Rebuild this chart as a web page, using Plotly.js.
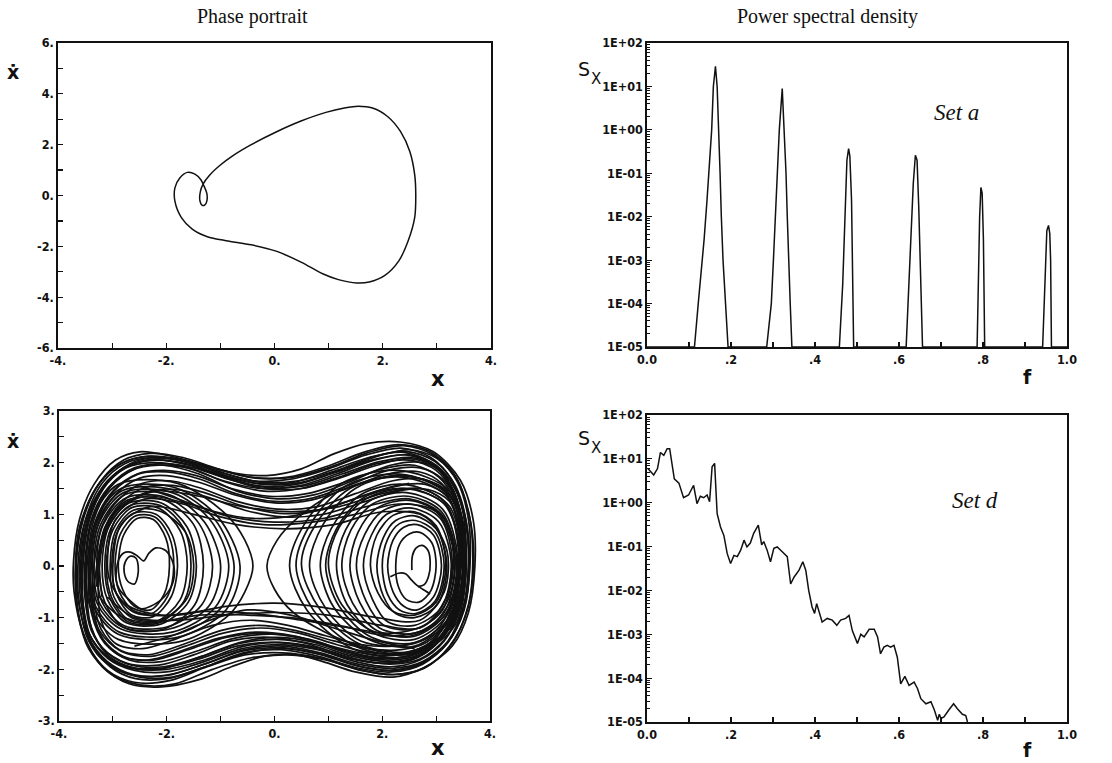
<!DOCTYPE html>
<html><head><meta charset="utf-8">
<script src="https://cdn.plot.ly/plotly-3.0.1.min.js"></script>
<style>html,body{margin:0;padding:0;background:#fff}#chart{width:1112px;height:763px}</style>
</head><body><div id="chart"></div>
<script>
// ---------- Set a: periodic orbit (phase portrait) ----------
const cycleX = [-1.84,-1.75,-1.61,-1.47,-1.36,-1.30,-1.25,-1.25,-1.29,-1.34,-1.38,-1.37,-1.32,-1.20,-1.00,-0.78,-0.43,0.03,0.49,0.95,1.29,1.55,1.81,2.10,2.33,2.50,2.59,2.61,2.59,2.47,2.30,2.04,1.75,1.52,1.18,0.89,0.49,0.03,-0.43,-0.89,-1.24,-1.52,-1.72,-1.84,-1.84];
const cycleY = [0.30,0.69,0.91,0.84,0.62,0.36,0.08,-0.22,-0.38,-0.38,-0.18,0.15,0.45,0.80,1.20,1.55,2.00,2.50,2.93,3.27,3.44,3.51,3.44,3.09,2.51,1.73,0.82,0.0,-0.87,-1.78,-2.56,-3.14,-3.40,-3.44,-3.31,-3.08,-2.62,-2.19,-1.94,-1.78,-1.62,-1.32,-0.87,-0.22,0.30];

// ---------- Set a: power spectral density ----------
const psdA_f = [0.0,0.113,0.122,0.128,0.136,0.143,0.149,0.154,0.158,0.163,0.167,0.171,0.174,0.177,0.181,0.187,0.193,
  0.285,0.296,0.301,0.306,0.310,0.315,0.322,0.327,0.331,0.334,0.337,0.341,0.345,
  0.458,0.466,0.472,0.476,0.480,0.483,0.487,0.489,0.492,
  0.617,0.622,0.629,0.634,0.639,0.643,0.647,0.651,0.656,
  0.786,0.789,0.792,0.795,0.798,0.801,0.804,
  0.942,0.948,0.952,0.956,0.959,0.961,0.963,1.0];
const psdA_S = [1e-5,1e-5,1e-4,4e-4,3e-3,2.5e-2,1.5e-1,1,10,29,10,1,1e-1,1e-2,1e-3,1e-4,1e-5,
  1e-5,1e-4,1e-3,1e-2,1e-1,1,8.9,1,1e-1,1e-2,1e-3,1e-4,1e-5,
  1e-5,2.8e-4,2.4e-2,0.2,0.37,0.25,2.4e-2,1e-3,1e-5,
  1e-5,1.1e-4,4.1e-3,5.8e-2,0.26,0.2,1.7e-2,1e-3,1e-5,
  1e-5,6.8e-4,1e-2,4.7e-2,3.5e-2,3e-3,1e-5,
  1e-5,2.8e-4,4.8e-3,6.3e-3,4.1e-3,1e-3,1e-5,1e-5];

// ---------- Set d: power spectral density ----------
const psdD_f = [0.002,0.016,0.025,0.032,0.040,0.048,0.054,0.060,0.065,0.076,0.087,0.099,0.111,0.119,0.127,0.135,0.143,0.149,0.155,0.161,0.167,0.175,0.183,0.191,0.199,0.207,0.215,0.223,0.231,0.238,0.246,0.254,0.265,0.273,0.278,0.286,0.294,0.302,0.310,0.322,0.334,0.342,0.350,0.362,0.371,0.378,0.385,0.393,0.399,0.404,0.410,0.417,0.429,0.441,0.452,0.461,0.473,0.481,0.489,0.501,0.509,0.517,0.529,0.541,0.549,0.556,0.564,0.572,0.580,0.588,0.596,0.604,0.614,0.624,0.636,0.644,0.652,0.664,0.676,0.684,0.692,0.696,0.700,0.707,0.719,0.730,0.739,0.751,0.759,0.763];
const psdD_S = [6.0,4.3,6.0,14,12,17,17,7.9,3.5,2.8,1.3,1.5,2.5,0.95,1.4,1.3,1.5,1.05,6.6,7.9,0.56,0.28,0.18,0.069,0.041,0.063,0.059,0.083,0.14,0.098,0.12,0.20,0.31,0.11,0.13,0.083,0.045,0.091,0.098,0.076,0.059,0.014,0.020,0.029,0.045,0.029,0.010,4.2e-3,3.0e-3,5.0e-3,3.0e-3,1.9e-3,2.3e-3,2.1e-3,1.6e-3,2.1e-3,2.3e-3,2.7e-3,1.2e-3,6.2e-4,1.0e-3,8.7e-4,1.3e-3,1.3e-3,8.7e-4,3.6e-4,5.1e-4,5.6e-4,5.1e-4,5.6e-4,3.0e-4,7.4e-5,1.1e-4,6.8e-5,8.1e-5,5.8e-5,3.4e-5,2.6e-5,2.9e-5,1.9e-5,1.1e-5,1.5e-5,1.2e-5,1.3e-5,1.9e-5,2.6e-5,2.0e-5,1.5e-5,1.4e-5,1.0e-5];

// ---------- Set d: chaotic attractor, strokes as [x,y,x,y,...] ----------
const outerLoops = [
 [-3.72,-0.5,-3.73,0.1,-3.62,0.9,-3.35,1.58,-2.95,2.05,-2.5,2.21,-1.9,2.12,-1.4,1.98,-0.75,1.8,-0.15,1.75,0.5,1.88,1.1,2.17,1.7,2.37,2.33,2.40,2.95,2.21,3.45,1.66,3.69,0.88,3.72,0.0,3.6,-0.9,3.3,-1.55,2.75,-1.98,2.2,-2.15,1.5,-2.05,0.9,-1.85,0.4,-1.72,-0.2,-1.75,-0.8,-1.95,-1.4,-2.2,-2.1,-2.34,-2.7,-2.28,-3.2,-1.95,-3.55,-1.3,-3.72,-0.5],
 [-3.68,0,-3.55,0.9,-3.25,1.6,-2.85,1.98,-2.35,2.12,-1.75,2.05,-1.1,1.85,-0.4,1.65,0.3,1.68,1.0,1.88,1.7,2.15,2.35,2.28,2.9,2.1,3.3,1.65,3.55,0.9,3.62,0,3.52,-0.85,3.2,-1.5,2.75,-1.88,2.2,-2.02,1.6,-1.95,0.9,-1.72,0.2,-1.6,-0.5,-1.68,-1.2,-1.92,-1.9,-2.15,-2.5,-2.15,-3.0,-1.95,-3.4,-1.5,-3.62,-0.8,-3.68,0],
 [-3.6,0,-3.48,0.88,-3.18,1.55,-2.75,1.92,-2.25,2.05,-1.65,1.98,-1.0,1.75,-0.3,1.55,0.4,1.58,1.1,1.8,1.8,2.05,2.45,2.15,2.95,1.95,3.3,1.5,3.5,0.8,3.55,0,3.45,-0.8,3.15,-1.45,2.7,-1.82,2.15,-1.95,1.5,-1.85,0.8,-1.62,0.1,-1.52,-0.6,-1.6,-1.3,-1.85,-2.0,-2.05,-2.6,-2.02,-3.08,-1.8,-3.42,-1.35,-3.56,-0.7,-3.6,0],
 [-3.52,0.05,-3.4,0.9,-3.1,1.5,-2.65,1.85,-2.15,1.95,-1.55,1.88,-0.9,1.62,-0.2,1.45,0.5,1.5,1.2,1.72,1.9,1.98,2.5,2.05,3.0,1.85,3.32,1.4,3.48,0.7,3.5,-0.05,3.4,-0.75,3.1,-1.38,2.65,-1.75,2.1,-1.85,1.45,-1.75,0.75,-1.52,0.05,-1.42,-0.65,-1.5,-1.35,-1.75,-2.05,-1.95,-2.65,-1.92,-3.1,-1.68,-3.4,-1.25,-3.52,-0.6,-3.52,0.05],
 [-3.45,0,-3.33,0.85,-3.0,1.45,-2.55,1.78,-2.05,1.85,-1.45,1.75,-0.8,1.5,-0.1,1.35,0.6,1.4,1.3,1.62,2.0,1.88,2.6,1.95,3.05,1.72,3.35,1.25,3.47,0.55,3.45,-0.2,3.32,-0.9,3.0,-1.45,2.55,-1.72,2.0,-1.78,1.35,-1.65,0.65,-1.42,-0.05,-1.32,-0.75,-1.4,-1.45,-1.65,-2.1,-1.85,-2.7,-1.82,-3.15,-1.5,-3.4,-0.9,-3.45,0],
 [-3.68,0.1,-3.55,0.95,-3.22,1.65,-2.8,2.05,-2.3,2.18,-1.7,2.1,-1.05,1.88,-0.35,1.7,0.35,1.72,1.05,1.92,1.75,2.2,2.4,2.33,2.95,2.15,3.38,1.7,3.62,0.95,3.68,0.05,3.58,-0.85,3.25,-1.55,2.78,-1.98,2.2,-2.1,1.55,-2.0,0.85,-1.78,0.15,-1.68,-0.55,-1.72,-1.25,-1.95,-1.95,-2.22,-2.6,-2.25,-3.1,-2.02,-3.48,-1.5,-3.66,-0.75,-3.68,0.1],
 [-3.4,0,-3.28,0.8,-2.95,1.38,-2.5,1.7,-2.0,1.75,-1.4,1.62,-0.75,1.38,0.0,1.22,0.7,1.28,1.4,1.52,2.1,1.78,2.7,1.82,3.1,1.6,3.38,1.1,3.45,0.4,3.4,-0.35,3.25,-1.0,2.9,-1.48,2.4,-1.68,1.8,-1.68,1.15,-1.52,0.45,-1.3,-0.25,-1.2,-0.95,-1.3,-1.65,-1.55,-2.3,-1.75,-2.85,-1.65,-3.25,-1.25,-3.4,-0.6,-3.4,0],
 [-3.35,0.02,-3.2,0.78,-2.88,1.3,-2.45,1.6,-1.95,1.65,-1.35,1.5,-0.7,1.25,0.05,1.1,0.8,1.15,1.5,1.4,2.2,1.65,2.75,1.68,3.15,1.45,3.38,0.95,3.42,0.2,3.35,-0.55,3.15,-1.15,2.8,-1.55,2.3,-1.72,1.7,-1.7,1.05,-1.55,0.35,-1.35,-0.35,-1.28,-1.05,-1.4,-1.75,-1.65,-2.35,-1.82,-2.9,-1.72,-3.25,-1.3,-3.38,-0.6,-3.35,0.02],
 [-3.56,0,-3.44,0.9,-3.12,1.6,-2.68,1.98,-2.2,2.1,-1.6,2.02,-0.95,1.8,-0.25,1.62,0.45,1.65,1.15,1.85,1.85,2.12,2.45,2.22,2.98,2.02,3.36,1.55,3.56,0.85,3.6,0,3.5,-0.85,3.2,-1.5,2.72,-1.88,2.15,-2.02,1.5,-1.92,0.8,-1.7,0.1,-1.58,-0.6,-1.65,-1.3,-1.9,-2.0,-2.12,-2.62,-2.1,-3.1,-1.85,-3.45,-1.38,-3.56,-0.7,-3.56,0],
 [-3.62,0.05,-3.5,0.92,-3.2,1.6,-2.78,1.98,-2.28,2.1,-1.68,2.02,-1.05,1.78,-0.35,1.6,0.35,1.62,1.05,1.85,1.75,2.1,2.4,2.2,2.92,2.0,3.28,1.55,3.5,0.85,3.56,0.05,3.46,-0.78,3.16,-1.42,2.7,-1.8,2.15,-1.9,1.5,-1.8,0.8,-1.58,0.1,-1.48,-0.6,-1.56,-1.3,-1.82,-2.0,-2.0,-2.6,-1.98,-3.1,-1.75,-3.45,-1.3,-3.6,-0.65,-3.62,0.05],
 [-3.3,0,-3.15,0.75,-2.82,1.25,-2.4,1.52,-1.9,1.56,-1.3,1.42,-0.65,1.18,0.1,1.02,0.85,1.08,1.55,1.32,2.25,1.55,2.8,1.58,3.2,1.35,3.4,0.85,3.45,0.1,3.38,-0.6,3.18,-1.12,2.82,-1.48,2.35,-1.62,1.75,-1.6,1.1,-1.45,0.4,-1.25,-0.3,-1.15,-1.0,-1.25,-1.7,-1.52,-2.35,-1.72,-2.88,-1.62,-3.22,-1.22,-3.35,-0.6,-3.3,0],
 [-3.65,0,-3.52,0.85,-3.2,1.5,-2.75,1.9,-2.25,2.0,-1.6,1.9,-0.95,1.65,-0.25,1.5,0.45,1.55,1.15,1.78,1.85,2.05,2.5,2.15,3.0,1.95,3.35,1.5,3.55,0.8,3.6,0,3.5,-0.8,3.22,-1.45,2.75,-1.85,2.2,-1.98,1.55,-1.9,0.85,-1.68,0.15,-1.55,-0.55,-1.62,-1.25,-1.88,-1.95,-2.1,-2.6,-2.12,-3.1,-1.9,-3.45,-1.45,-3.62,-0.75,-3.65,0],
 [-3.48,0,-3.35,0.9,-3.05,1.52,-2.6,1.88,-2.1,1.98,-1.5,1.9,-0.85,1.68,-0.15,1.52,0.55,1.55,1.25,1.78,1.95,2.02,2.55,2.1,3.02,1.9,3.32,1.45,3.47,0.75,3.5,0,3.4,-0.78,3.08,-1.42,2.62,-1.78,2.05,-1.88,1.4,-1.8,0.7,-1.58,0.0,-1.48,-0.7,-1.55,-1.4,-1.8,-2.1,-1.98,-2.68,-1.95,-3.12,-1.7,-3.4,-1.2,-3.48,-0.6,-3.48,0],
 [-3.58,0.05,-3.45,0.95,-3.12,1.62,-2.7,1.95,-2.18,2.05,-1.58,1.95,-0.9,1.7,-0.2,1.5,0.5,1.5,1.2,1.7,1.9,1.95,2.5,2.08,2.98,1.92,3.3,1.48,3.5,0.8,3.55,0.05,3.45,-0.72,3.15,-1.35,2.68,-1.72,2.1,-1.82,1.45,-1.72,0.75,-1.48,0.05,-1.38,-0.65,-1.48,-1.35,-1.75,-2.05,-1.98,-2.65,-1.98,-3.12,-1.75,-3.45,-1.3,-3.58,-0.6,-3.58,0.05],
 [-3.7,-0.1,-3.62,0.75,-3.32,1.5,-2.9,1.95,-2.42,2.12,-1.82,2.08,-1.15,1.9,-0.45,1.72,0.25,1.72,0.95,1.92,1.65,2.2,2.3,2.35,2.88,2.22,3.32,1.8,3.6,1.05,3.7,0.15,3.6,-0.75,3.3,-1.5,2.82,-1.95,2.25,-2.1,1.6,-2.02,0.95,-1.82,0.25,-1.72,-0.45,-1.78,-1.15,-2.0,-1.85,-2.28,-2.5,-2.3,-3.05,-2.08,-3.45,-1.6,-3.65,-0.9,-3.7,-0.1],
 [-3.5,0,-3.38,0.9,-3.05,1.55,-2.6,1.9,-2.05,1.95,-1.4,1.78,-0.7,1.45,0.05,1.3,0.75,1.38,1.45,1.65,2.15,1.95,2.75,2.0,3.18,1.75,3.45,1.25,3.55,0.55,3.52,-0.25,3.35,-0.95,3.02,-1.5,2.55,-1.82,1.95,-1.88,1.3,-1.75,0.6,-1.5,-0.1,-1.38,-0.8,-1.45,-1.5,-1.72,-2.15,-1.92,-2.75,-1.88,-3.2,-1.58,-3.45,-1.0,-3.5,0],
 [-3.42,0.05,-3.3,0.85,-2.98,1.45,-2.52,1.78,-2.0,1.82,-1.38,1.68,-0.72,1.4,0.0,1.25,0.72,1.32,1.42,1.58,2.1,1.85,2.7,1.9,3.12,1.68,3.4,1.2,3.5,0.5,3.47,-0.3,3.3,-0.98,2.95,-1.5,2.45,-1.75,1.85,-1.78,1.2,-1.62,0.5,-1.4,-0.2,-1.3,-0.9,-1.38,-1.6,-1.62,-2.25,-1.82,-2.8,-1.75,-3.2,-1.4,-3.4,-0.75,-3.42,0.05],
 [-3.25,0,-3.1,0.72,-2.75,1.2,-2.3,1.45,-1.8,1.48,-1.2,1.32,-0.55,1.08,0.15,0.95,0.9,1.0,1.6,1.22,2.3,1.45,2.85,1.48,3.25,1.25,3.42,0.7,3.42,0,3.32,-0.65,3.08,-1.15,2.7,-1.45,2.2,-1.55,1.6,-1.52,0.95,-1.35,0.25,-1.15,-0.45,-1.05,-1.15,-1.15,-1.85,-1.42,-2.45,-1.6,-2.95,-1.5,-3.22,-1.05,-3.25,0],
 [-3.55,0.1,-3.42,0.95,-3.1,1.6,-2.68,1.95,-2.18,2.08,-1.55,2.0,-0.9,1.75,-0.2,1.58,0.5,1.62,1.2,1.85,1.9,2.12,2.5,2.25,3.02,2.08,3.4,1.62,3.6,0.9,3.63,0.05,3.52,-0.82,3.22,-1.48,2.75,-1.9,2.18,-2.05,1.52,-1.97,0.82,-1.75,0.12,-1.62,-0.58,-1.68,-1.28,-1.95,-1.98,-2.18,-2.58,-2.18,-3.05,-1.95,-3.4,-1.48,-3.55,-0.75,-3.55,0.1]
];
const rightWellLoops = [
 [2.1,0,2.2,0.5,2.4,0.75,2.65,0.8,2.95,0.6,3.1,0,2.95,-0.6,2.65,-0.85,2.4,-0.78,2.2,-0.5,2.1,0],
 [1.9,0,2.02,0.55,2.25,0.88,2.6,0.97,3.0,0.72,3.2,0,3.02,-0.75,2.6,-1.0,2.25,-0.92,2.02,-0.58,1.9,0],
 [1.65,0,1.8,0.6,2.08,1.0,2.55,1.12,3.05,0.85,3.28,0.05,3.1,-0.8,2.6,-1.15,2.1,-1.08,1.82,-0.65,1.65,0],
 [1.4,0,1.55,0.65,1.9,1.12,2.5,1.27,3.1,0.98,3.35,0.1,3.15,-0.9,2.6,-1.3,1.95,-1.2,1.58,-0.7,1.4,0],
 [1.15,0.02,1.32,0.7,1.75,1.25,2.45,1.42,3.12,1.1,3.4,0.15,3.2,-0.95,2.6,-1.42,1.85,-1.3,1.35,-0.75,1.15,0.02],
 [0.85,0,1.05,0.72,1.6,1.38,2.4,1.58,3.15,1.25,3.45,0.2,3.25,-1.0,2.6,-1.55,1.75,-1.42,1.1,-0.8,0.85,0],
 [0.5,0.03,0.75,0.78,1.4,1.5,2.35,1.72,3.2,1.35,3.5,0.25,3.3,-1.1,2.55,-1.65,1.6,-1.52,0.85,-0.85,0.5,0.03],
 [0.28,0,0.55,0.8,1.25,1.6,2.3,1.85,3.25,1.45,3.55,0.3,3.35,-1.15,2.5,-1.75,1.45,-1.6,0.6,-0.85,0.28,0],
 [-0.14,0,0.05,0.5,0.45,0.95,1.2,1.45,2.3,1.75,3.2,1.45,3.52,0.3,3.3,-1.1,2.5,-1.7,1.3,-1.45,0.35,-0.9,0.0,-0.45,-0.14,0],
 [1.0,0.05,1.2,0.75,1.7,1.3,2.5,1.5,3.2,1.15,3.42,0.05,3.2,-0.9,2.55,-1.35,1.8,-1.25,1.25,-0.75,1.0,0.05],
 [0.65,0,0.9,0.8,1.5,1.5,2.45,1.75,3.3,1.3,3.52,0.1,3.3,-1.0,2.6,-1.5,1.6,-1.45,0.95,-0.82,0.65,0],
 [1.78,0.02,1.9,0.6,2.2,0.98,2.6,1.05,3.0,0.78,3.18,0,3.0,-0.7,2.6,-0.95,2.2,-0.88,1.92,-0.52,1.78,0.02],
 [2.25,0,2.32,0.42,2.5,0.62,2.7,0.65,2.92,0.45,3.0,0,2.9,-0.48,2.68,-0.7,2.45,-0.65,2.3,-0.4,2.25,0],
 [1.25,0,1.42,0.7,1.82,1.2,2.48,1.35,3.1,1.05,3.38,0.12,3.18,-0.92,2.6,-1.36,1.9,-1.25,1.45,-0.72,1.25,0],
 [0.4,0,0.65,0.78,1.32,1.55,2.32,1.78,3.22,1.4,3.52,0.28,3.32,-1.12,2.52,-1.7,1.52,-1.56,0.72,-0.85,0.4,0],
 [1.52,0.02,1.68,0.62,2.0,1.06,2.52,1.2,3.08,0.92,3.3,0.08,3.12,-0.85,2.6,-1.22,2.02,-1.14,1.7,-0.68,1.52,0.02],
 [2.0,0,2.1,0.52,2.32,0.82,2.62,0.88,2.98,0.66,3.15,0,2.98,-0.68,2.62,-0.92,2.32,-0.85,2.1,-0.55,2.0,0],
 [0.95,0,1.15,0.72,1.65,1.32,2.42,1.5,3.15,1.2,3.45,0.18,3.25,-0.98,2.6,-1.48,1.8,-1.38,1.2,-0.78,0.95,0]
];
const leftWellLoops = [
 [-2.9,0,-2.8,0.6,-2.55,0.92,-2.25,0.9,-2.02,0.55,-1.95,0,-2.05,-0.55,-2.3,-0.85,-2.6,-0.78,-2.82,-0.45,-2.9,0],
 [-3.02,0,-2.92,0.65,-2.62,1.02,-2.2,1.0,-1.9,0.6,-1.8,0,-1.92,-0.6,-2.25,-0.98,-2.65,-0.95,-2.93,-0.55,-3.02,0],
 [-3.12,0.02,-3.0,0.7,-2.65,1.13,-2.15,1.12,-1.75,0.68,-1.62,0.02,-1.75,-0.65,-2.2,-1.08,-2.7,-1.05,-3.02,-0.62,-3.12,0.02],
 [-3.2,0,-3.08,0.75,-2.7,1.22,-2.1,1.22,-1.62,0.75,-1.45,0,-1.6,-0.7,-2.1,-1.12,-2.75,-1.1,-3.1,-0.65,-3.2,0],
 [-3.3,0,-3.18,0.8,-2.75,1.32,-2.0,1.32,-1.4,0.82,-1.15,0,-1.35,-0.75,-2.0,-1.18,-2.8,-1.15,-3.2,-0.7,-3.3,0],
 [-3.38,0.02,-3.25,0.85,-2.8,1.42,-1.9,1.42,-1.2,0.9,-0.85,0.02,-1.1,-0.8,-1.9,-1.28,-2.85,-1.22,-3.28,-0.75,-3.38,0.02],
 [-3.45,0,-3.3,0.9,-2.85,1.5,-1.85,1.52,-1.05,0.95,-0.64,0,-0.9,-0.85,-1.8,-1.38,-2.9,-1.32,-3.35,-0.8,-3.45,0],
 [-3.5,0,-3.36,0.95,-2.9,1.58,-1.8,1.6,-0.9,1.0,-0.55,0.5,-0.4,0,-0.55,-0.5,-0.85,-0.95,-1.7,-1.45,-2.9,-1.42,-3.4,-0.85,-3.5,0],
 [-3.25,0.02,-3.12,0.78,-2.72,1.28,-2.05,1.28,-1.5,0.8,-1.32,0.02,-1.48,-0.75,-2.05,-1.22,-2.78,-1.2,-3.15,-0.7,-3.25,0.02],
 [-3.05,0.03,-2.95,0.68,-2.62,1.08,-2.12,1.06,-1.65,0.65,-1.5,0.02,-1.62,-0.62,-2.12,-1.05,-2.65,-1.0,-2.98,-0.6,-3.05,0.03],
 [-3.15,0,-3.04,0.72,-2.68,1.17,-2.12,1.17,-1.68,0.72,-1.55,0,-1.68,-0.68,-2.15,-1.1,-2.72,-1.08,-3.05,-0.63,-3.15,0],
 [-3.42,0,-3.28,0.88,-2.82,1.46,-1.88,1.47,-1.12,0.92,-0.75,0,-1.0,-0.82,-1.85,-1.33,-2.88,-1.28,-3.32,-0.78,-3.42,0],
 [-2.96,0,-2.86,0.62,-2.58,0.97,-2.22,0.95,-1.96,0.58,-1.87,0,-1.98,-0.58,-2.28,-0.92,-2.62,-0.86,-2.88,-0.5,-2.96,0],
 [-3.35,0,-3.22,0.82,-2.78,1.38,-1.95,1.38,-1.3,0.85,-1.0,0,-1.22,-0.78,-1.95,-1.22,-2.82,-1.18,-3.25,-0.72,-3.35,0]
];
const crossingCurves = [
 [-3.2,-0.6,-3.25,0.3,-3.0,1.0,-2.4,1.35,-1.6,1.2,-0.8,0.95,0.0,0.85,0.9,0.92,1.7,1.15,2.5,1.3,3.1,1.0,3.35,0.2,3.2,-0.7,2.7,-1.2,2.0,-1.15,1.0,-0.95,0.0,-0.9,-0.9,-0.95,-1.8,-1.05,-2.6,-1.0,-3.1,-0.6],
 [-3.0,0,-2.85,0.8,-2.3,1.15,-1.5,1.0,-0.7,0.8,0.2,0.72,1.1,0.8,2.0,1.05,2.8,0.95,3.2,0.3,3.15,-0.5,2.7,-1.05,1.9,-1.0,0.9,-0.8,0.0,-0.72,-0.9,-0.78,-1.8,-0.95,-2.6,-0.9,-2.95,-0.5,-3.0,0],
 [-3.3,-0.4,-3.2,0.5,-2.85,1.15,-2.2,1.45,-1.4,1.35,-0.6,1.15,0.3,1.05,1.2,1.15,2.0,1.4,2.7,1.5,3.25,1.15,3.45,0.3,3.3,-0.6,2.85,-1.2,2.1,-1.35,1.2,-1.15,0.3,-1.0,-0.5,-0.95,-1.4,-0.95,-2.3,-1.1,-2.9,-0.95,-3.25,-0.6],
 [-3.1,0.1,-2.95,0.9,-2.4,1.3,-1.7,1.2,-1.0,0.95,-0.2,0.8,0.7,0.85,1.5,1.0,2.3,1.2,3.0,1.05,3.3,0.4,3.25,-0.45,2.85,-1.1,2.2,-1.3,1.4,-1.2,0.5,-1.05,-0.4,-0.92,-1.3,-0.88,-2.1,-0.95,-2.75,-0.75,-3.05,-0.3,-3.1,0.1],
 [-2.6,-1.55,-1.9,-1.35,-1.2,-1.05,-0.5,-0.85,0.3,-0.95,1.1,-1.2,1.9,-1.45,2.6,-1.6],
 [-2.5,1.55,-1.8,1.3,-1.1,1.05,-0.4,0.92,0.4,0.98,1.2,1.2,1.9,1.45,2.5,1.6]
];
const coreCurves = [
 [-2.94,-0.26,-2.9,0.1,-2.8,0.25,-2.68,0.27,-2.55,0.2,-2.43,0.1,-2.33,0.25,-2.2,0.35,-2.02,0.3,-1.88,0.05,-1.88,-0.3,-2.05,-0.6,-2.3,-0.78,-2.47,-0.83,-2.7,-0.65,-2.88,-0.45,-2.94,-0.26],
 [-2.53,0.0,-2.57,0.15,-2.67,0.19,-2.77,0.08,-2.79,-0.12,-2.72,-0.3,-2.6,-0.35,-2.54,-0.2,-2.53,0.0],
 [2.55,-0.08,2.56,0.2,2.63,0.35,2.74,0.4,2.85,0.3,2.89,0.08,2.86,-0.2,2.78,-0.36,2.66,-0.4],
 [2.15,-0.21,2.3,-0.14,2.43,-0.15,2.55,-0.28,2.64,-0.37,2.75,-0.45,2.89,-0.54]
];

function strokes(list){
  const xs=[], ys=[];
  list.forEach(s=>{ for(let i=0;i<s.length;i+=2){ xs.push(s[i]); ys.push(s[i+1]); } xs.push(null); ys.push(null); });
  return {x:xs, y:ys};
}

const ink = '#111';
const tickFont = {family:'Liberation Sans Narrow, DejaVu Sans Condensed, Arial Narrow, sans-serif', size:12.5, weight:'bold', color:ink};

function ax(extra){
  return Object.assign({showline:true, linecolor:ink, linewidth:1.6, mirror:true, ticks:'inside', ticklen:5,
    tickwidth:1.2, tickcolor:ink, showgrid:false, zeroline:false, tickfont:tickFont, fixedrange:true, tickmode:'array'}, extra);
}

const phaseXTicks = [-4,-3,-2,-1,0,1,2,3,4];
const phaseXLabels = ['-4.','','-2.','','0.','','2.','','4.'];
const topYTicks = [-6,-5,-4,-3,-2,-1,0,1,2,3,4,5,6];
const topYLabels = ['-6.','','-4.','','-2.','','0.','','2.','','4.','','6.'];
const botYTicks = [-3,-2.5,-2,-1.5,-1,-0.5,0,0.5,1,1.5,2,2.5,3];
const botYLabels = ['-3.','','-2.','','-1.','','0.','','1.','','2.','','3.'];
const fTicks = [0,0.1,0.2,0.3,0.4,0.5,0.6,0.7,0.8,0.9,1.0];
const fLabels = ['0.0','','.2','','.4','','.6','','.8','','1.0'];
const sTicks = [1e-5,1e-4,1e-3,1e-2,1e-1,1,10,100];
const sLabels = ['1E-05','1E-04','1E-03','1E-02','1E-01','1E+00','1E+01','1E+02'];

const att = strokes([].concat(outerLoops, rightWellLoops, leftWellLoops, crossingCurves, coreCurves));

const lineStyle = {color:ink, width:1.5};
const data = [
  {type:'scatter', mode:'lines', x:cycleX, y:cycleY, xaxis:'x', yaxis:'y', line:Object.assign({shape:'spline', smoothing:0.8}, lineStyle), hoverinfo:'skip'},
  {type:'scatter', mode:'lines', x:psdA_f, y:psdA_S, xaxis:'x2', yaxis:'y2', line:lineStyle, hoverinfo:'skip'},
  {type:'scatter', mode:'lines', x:att.x, y:att.y, xaxis:'x3', yaxis:'y3', connectgaps:false, line:{color:ink, width:1.7, shape:'spline', smoothing:0.9}, hoverinfo:'skip'},
  {type:'scatter', mode:'lines', x:psdD_f, y:psdD_S, xaxis:'x4', yaxis:'y4', line:lineStyle, hoverinfo:'skip'}
];

const W=1112, H=763;
function px(x){return x/W;} function py(y){return 1-y/H;}
function ann(text,x,y,font,extra){
  return Object.assign({text:text, xref:'paper', yref:'paper', x:px(x), y:py(y), showarrow:false, xanchor:'center', yanchor:'middle', font:font}, extra||{});
}
const serif = 'Liberation Serif, Times New Roman, serif';
const sans = 'DejaVu Sans, Liberation Sans, sans-serif';
const annotations = [
  ann('Phase portrait', 252, 16, {family:serif, size:20, color:ink}),
  ann('Power spectral density', 827, 16, {family:serif, size:20, color:ink}),
  ann('x\u0307', 13, 72, {family:sans, size:19, weight:'bold', color:ink}),
  ann('x\u0307', 13, 441, {family:sans, size:19, weight:'bold', color:ink}),
  ann('x', 438, 379, {family:sans, size:21, weight:'bold', color:ink}),
  ann('x', 438, 748, {family:sans, size:21, weight:'bold', color:ink}),
  ann('S', 584, 69, {family:sans, size:19, color:ink}),
  ann('X', 596, 79, {family:sans, size:15, color:ink}),
  ann('S', 584, 438, {family:sans, size:19, color:ink}),
  ann('X', 596, 448, {family:sans, size:15, color:ink}),
  ann('f', 1027, 377, {family:sans, size:19, weight:'bold', color:ink}),
  ann('f', 1027, 750, {family:sans, size:19, weight:'bold', color:ink}),
  ann('Set a', 956, 112, {family:serif, size:23, style:'italic', color:ink}),
  ann('Set d', 975, 500, {family:serif, size:23, style:'italic', color:ink})
];

const logMinor = {ticks:'inside', ticklen:3, tickcolor:ink, tickwidth:1, dtick:'D1'};
const layout = {
  width:W, height:H, autosize:false, showlegend:false,
  margin:{l:0,r:0,t:0,b:0}, paper_bgcolor:'#fff', plot_bgcolor:'#fff',
  xaxis: ax({domain:[px(58),px(491)], range:[-4,4], tickvals:phaseXTicks, ticktext:phaseXLabels, anchor:'y'}),
  yaxis: ax({domain:[py(348),py(43)], range:[-6,6], tickvals:topYTicks, ticktext:topYLabels, anchor:'x'}),
  xaxis2: ax({domain:[px(647),px(1067)], range:[0,1], tickvals:fTicks, ticktext:fLabels, anchor:'y2'}),
  yaxis2: ax({domain:[py(347),py(43)], type:'log', range:[-5,2], tickvals:sTicks, ticktext:sLabels, anchor:'x2', minor:logMinor}),
  xaxis3: ax({domain:[px(59),px(490)], range:[-4,4], tickvals:phaseXTicks, ticktext:phaseXLabels, anchor:'y3'}),
  yaxis3: ax({domain:[py(721),py(411)], range:[-3,3], tickvals:botYTicks, ticktext:botYLabels, anchor:'x3'}),
  xaxis4: ax({domain:[px(647),px(1067)], range:[0,1], tickvals:fTicks, ticktext:fLabels, anchor:'y4'}),
  yaxis4: ax({domain:[py(722),py(415)], type:'log', range:[-5,2], tickvals:sTicks, ticktext:sLabels, anchor:'x4', minor:logMinor}),
  annotations: annotations
};

Plotly.newPlot('chart', data, layout, {staticPlot:true, displayModeBar:false});
</script></body></html>
